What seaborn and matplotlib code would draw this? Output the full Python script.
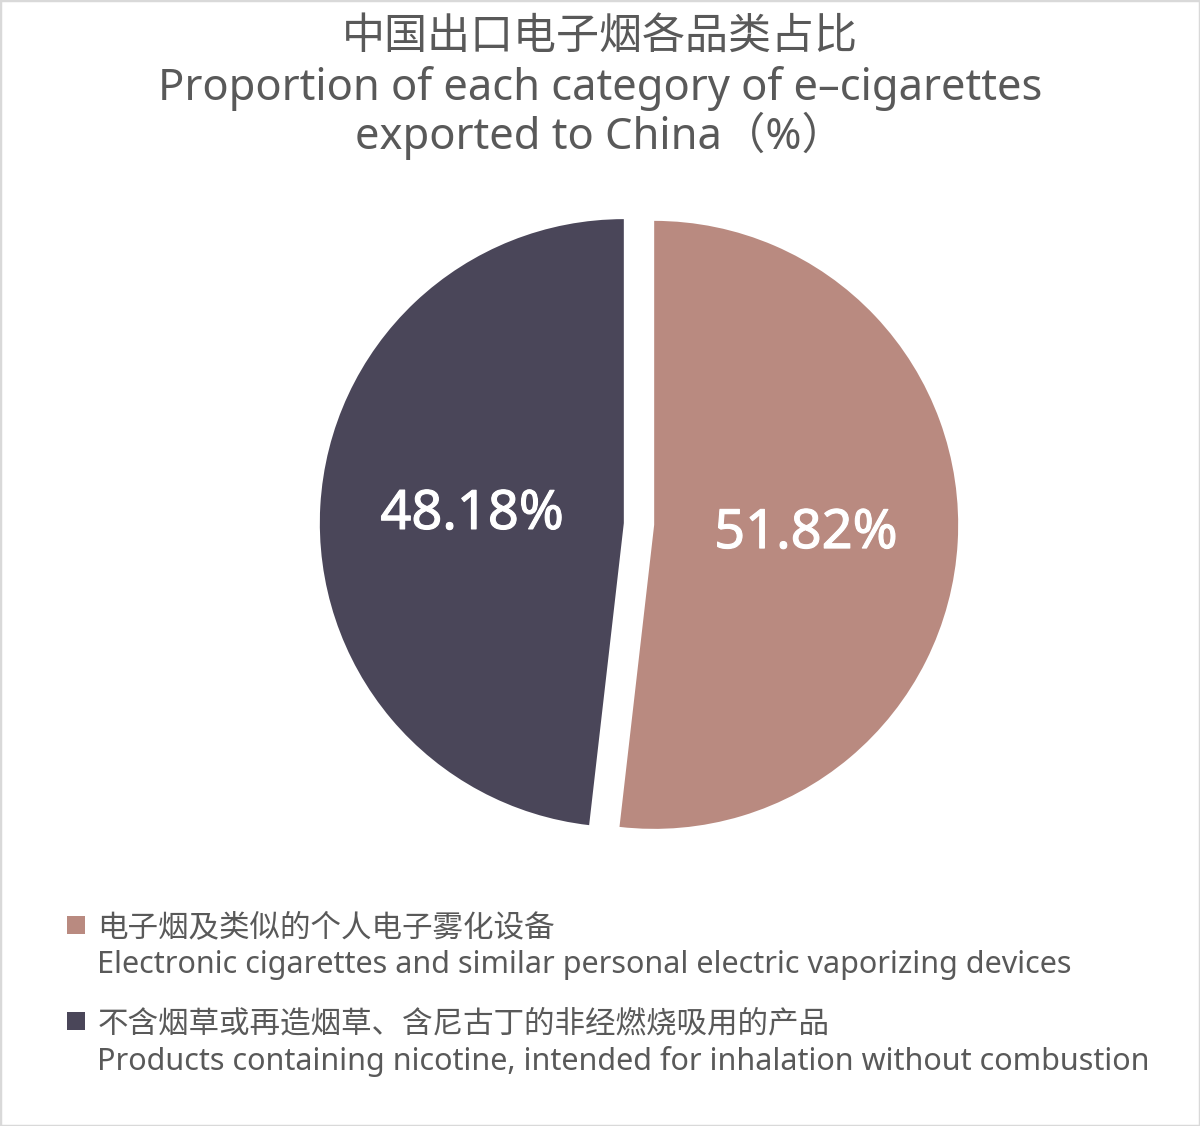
import matplotlib
matplotlib.use("Agg")
import matplotlib.pyplot as plt
import matplotlib.patheffects as pe
import seaborn as sns
from matplotlib.patches import Rectangle
from matplotlib.legend_handler import HandlerPatch

# data
categories_cn = ["电子烟及类似的个人电子雾化设备",
                 "不含烟草或再造烟草、含尼古丁的非经燃烧吸用的产品"]
categories_en = ["Electronic cigarettes and similar personal electric vaporizing devices",
                 "Products containing nicotine, intended for inhalation without combustion"]
shares = [51.82, 48.18]
colors = ["#B98A80", "#4A4659"]

title_lines = ["中国出口电子烟各品类占比",
               "Proportion of each category of e\u2013cigarettes",
               "exported to China（%）"]

sns.set_theme(style="white")
plt.rcParams['font.family'] = ['Noto Sans', 'Noto Sans CJK SC', 'DejaVu Sans']
TXT = "#595959"

W, H = 1200, 1126
fig = plt.figure(figsize=(W / 100, H / 100), dpi=100)
fig.patch.set_facecolor("white")
fig.patches.append(Rectangle((0, 0), 1, 1, transform=fig.transFigure, fill=False,
                             edgecolor="#D9D9D9", lw=2.5))

# pie axes: centre (639, 524) px, radius 304 px
R = 304
cx, cy = 639, 524
span = 2.2 * R
ax = fig.add_axes([(cx - span / 2) / W, (H - cy - span / 2) / H, span / W, span / H])
wedges, texts, autotexts = ax.pie(
    shares, colors=colors, startangle=90, counterclock=False,
    explode=[0.05, 0.05], autopct="%.2f%%", pctdistance=0.5,
    wedgeprops=dict(linewidth=0),
    textprops=dict(color="white", fontsize=39))
for t in autotexts:
    # a thin white stroke gives the medium weight of the original
    t.set_path_effects([pe.withStroke(linewidth=0.8, foreground="white")])
ax.set_xlim(-1.1, 1.1)
ax.set_ylim(-1.1, 1.1)
ax.set_aspect("equal")
ax.axis("off")

# title
for txt, base, fs in zip(title_lines, [49, 100, 149], [31, 31.3, 31.3]):
    fig.text(0.5, 1 - base / H, txt, ha="center", va="baseline", fontsize=fs, color=TXT)

# legend: square sits beside the first (Chinese) line
def top_square(legend, orig_handle, xdescent, ydescent, width, height, fontsize):
    side = 0.59 * fontsize
    return Rectangle((-xdescent, -ydescent + 0.79 * fontsize), side, side)

labels = [c + "\n" + e for c, e in zip(categories_cn, categories_en)]
leg = fig.legend(wedges, labels, loc="upper left", bbox_to_anchor=(67 / W, 1 - 913 / H),
                 frameon=False, fontsize=22, handlelength=0.59, handleheight=0.7,
                 handletextpad=0.4, labelspacing=0.95, borderpad=0, borderaxespad=0,
                 handler_map={w: HandlerPatch(patch_func=top_square) for w in wedges})
for t in leg.get_texts():
    t.set_color(TXT)
    t.set_linespacing(1.3)

fig.savefig("out.png", dpi=100, facecolor="white")
